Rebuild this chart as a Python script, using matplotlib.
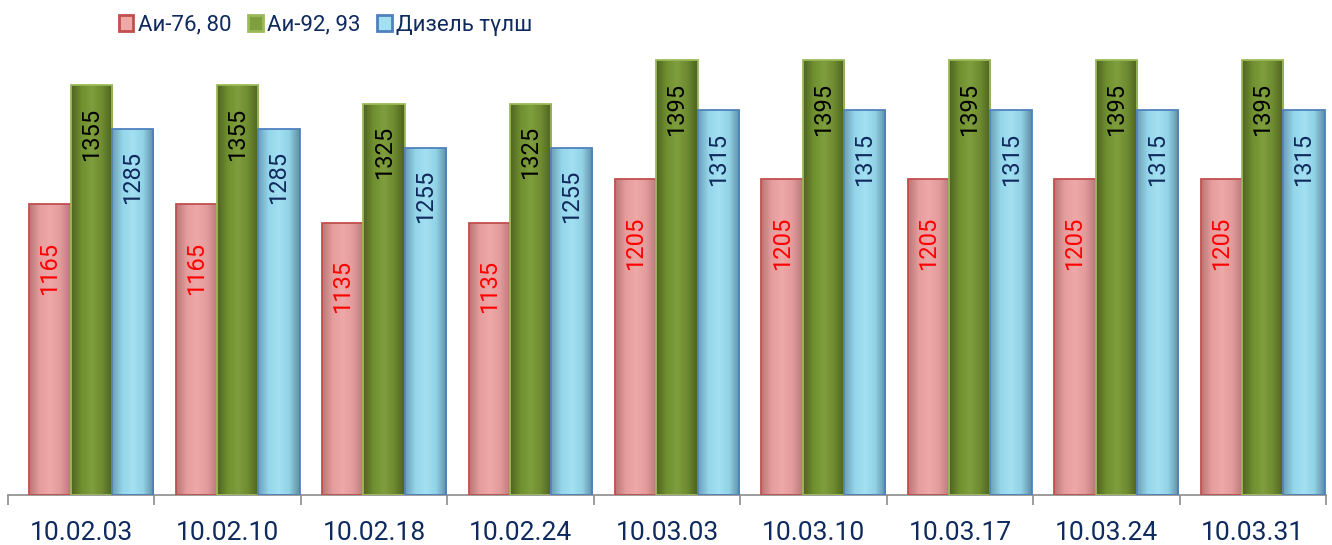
import numpy as np
import matplotlib
matplotlib.use("Agg")
from matplotlib import pyplot as plt
from matplotlib.colors import LinearSegmentedColormap
import matplotlib.patches as p

plt.rcParams['font.family'] = ['Roboto', 'DejaVu Sans']

dates = ["10.02.03", "10.02.10", "10.02.18", "10.02.24", "10.03.03",
         "10.03.10", "10.03.17", "10.03.24", "10.03.31"]
series_names = ["Аи-76, 80", "Аи-92, 93", "Дизель түлш"]
ai76 = [1165, 1165, 1135, 1135, 1205, 1205, 1205, 1205, 1205]
ai92 = [1355, 1355, 1325, 1325, 1395, 1395, 1395, 1395, 1395]
diesel = [1285, 1285, 1255, 1255, 1315, 1315, 1315, 1315, 1315]

# gradient stops (left edge -> highlight -> right edge), edge colour, label colour, label drop
styles = [
    (["#b97676", "#e59c9c", "#eea8a8", "#e39b9b", "#b87979"], "#c0504d", "#ff0000", 27),
    (["#4f6322", "#70902f", "#7f9e3e", "#6e8b30", "#4d6120"], "#9bbb59", "#000000", 16),
    (["#6c9fb5", "#95d6ea", "#a2e0f2", "#92d2e6", "#5f8ea3"], "#4f81bd", "#10295c", 16),
]
text_navy = "#0e2a5e"

fig = plt.figure(figsize=(13.32, 5.45), dpi=100)
ax = fig.add_axes([0.006, 0.0917, 0.9895, 0.8036])

x = np.arange(len(dates))
width = 0.282
start = -0.355
values = [ai76, ai92, diesel]

for k, (vals, (stops, edge, lab_col, drop)) in enumerate(zip(values, styles)):
    cmap = LinearSegmentedColormap.from_list("g%d" % k, stops)
    pos = x + start + width * (k + 0.5)
    bars = ax.bar(pos, np.array(vals) - 700, width=width, bottom=700,
                  facecolor="none", edgecolor=edge, linewidth=1.3, zorder=3)
    grad = np.linspace(0, 1, 64)[np.newaxis, :]
    for rect, v in zip(bars, vals):
        x0 = rect.get_x()
        im = ax.imshow(grad, extent=(x0, x0 + width, 700, v), aspect="auto",
                       cmap=cmap, zorder=2, interpolation="bilinear")
        im.set_clip_path(rect)
        ax.annotate(str(v), (x0 + width / 2, v), xytext=(0, -drop),
                    textcoords="offset points", rotation=90, ha="center",
                    va="top", fontsize=17, color=lab_col, zorder=4)

ax.set_xlim(-0.5, len(dates) - 0.5)
ax.set_ylim(700, 1400)
ax.set_yticks([])
for side in ["left", "right", "top"]:
    ax.spines[side].set_visible(False)
ax.spines["bottom"].set_color("#8c8c8c")
ax.spines["bottom"].set_linewidth(1.2)

ax.set_xticks(np.arange(len(dates) + 1) - 0.5)
ax.set_xticklabels([])
ax.tick_params(axis="x", which="major", length=7, color="#8c8c8c", width=1.2)
ax.set_xticks(x, minor=True)
ax.set_xticklabels(dates, minor=True, fontsize=19, color=text_navy)
ax.tick_params(axis="x", which="minor", length=0, pad=19)

handles = [p.Patch(facecolor=s[0][2], edgecolor=s[1], linewidth=2, label=n)
           for s, n in zip(styles, series_names)]
leg = fig.legend(handles=handles, loc="upper left", bbox_to_anchor=(0.081, 0.993),
                 ncol=3, frameon=False, fontsize=16,
                 handlelength=0.65, handleheight=0.75, handletextpad=0.2,
                 columnspacing=0.75, borderpad=0)
for t in leg.get_texts():
    t.set_color(text_navy)

fig.savefig("out.png", dpi=100)
